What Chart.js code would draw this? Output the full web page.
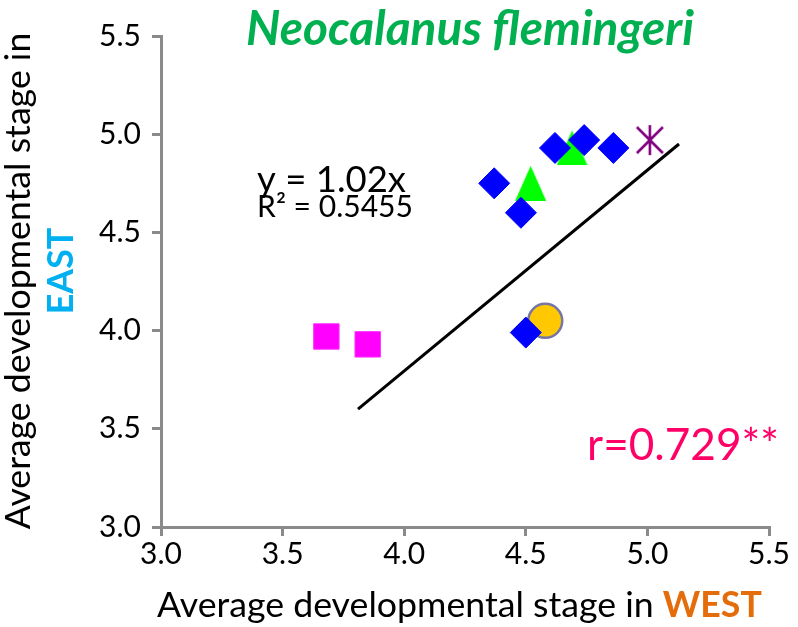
<!DOCTYPE html>
<html>
<head>
<meta charset="utf-8">
<title>Neocalanus flemingeri</title>
<script src="https://cdn.jsdelivr.net/npm/chart.js@4/dist/chart.umd.min.js"></script>
<style>
  html, body { margin: 0; padding: 0; background: #ffffff; overflow: hidden; }
  #wrap { width: 798px; height: 627px; position: relative; }
</style>
</head>
<body>
<div id="wrap"><canvas id="chart" width="798" height="627"></canvas></div>
<script>
// Average developmental stage: WEST (x) against EAST (y)
const stageTicks = [3.0, 3.5, 4.0, 4.5, 5.0, 5.5];

const diamondWest  = [4.37, 4.48, 4.62, 4.74, 4.86, 4.50];
const diamondEast  = [4.75, 4.60, 4.93, 4.97, 4.93, 3.99];
const triangleWest = [4.52, 4.69];
const triangleEast = [4.75, 4.93];
const squareWest   = [3.68, 3.85];
const squareEast   = [3.97, 3.93];
const circleWest   = [4.58];
const circleEast   = [4.05];
const starWest     = [5.01];
const starEast     = [4.97];
const trendWest    = [3.81, 5.13];
const trendEast    = [3.60, 4.95];

const titleText    = 'Neocalanus flemingeri';
const xTitleMain   = 'Average developmental stage in ';
const xTitleRegion = 'WEST';
const yTitleMain   = 'Average developmental stage in';
const yTitleRegion = 'EAST';
const equationText = 'y = 1.02x';
const r2Text       = 'R² = 0.5455';
const corrText     = 'r=0.729**';

const pairs = (xs, ys) => xs.map((x, i) => ({ x: x, y: ys[i] }));

// isosceles triangle marker
function makeTriangle(w, h, color) {
  const c = document.createElement('canvas');
  c.width = w; c.height = h;
  const g = c.getContext('2d');
  g.fillStyle = color;
  g.beginPath();
  g.moveTo(w / 2, 0);
  g.lineTo(w, h);
  g.lineTo(0, h);
  g.closePath();
  g.fill();
  return c;
}

// asterisk marker: vertical stroke plus an X
function makeAsterisk(w, h, color, lw) {
  const c = document.createElement('canvas');
  c.width = w; c.height = h;
  const g = c.getContext('2d');
  g.strokeStyle = color;
  g.lineWidth = lw;
  g.beginPath();
  g.moveTo(w / 2, 1); g.lineTo(w / 2, h - 1);
  g.moveTo(2, 3); g.lineTo(w - 2, h - 3);
  g.moveTo(w - 2, 3); g.lineTo(2, h - 3);
  g.stroke();
  return c;
}

function fitSize(ctx, text, style, family, width) {
  ctx.font = style + ' 100px ' + family;
  return 100 * width / ctx.measureText(text).width;
}

const textPlugin = {
  id: 'stageText',
  afterDraw(chart) {
    const ctx = chart.ctx;
    const xs = chart.scales.x, ys = chart.scales.y;
    ctx.save();
    ctx.textBaseline = 'alphabetic';

    // chart title
    const tSize = fitSize(ctx, titleText, 'italic bold', 'Lato', 448);
    ctx.font = 'italic bold ' + tSize + 'px Lato';
    ctx.fillStyle = '#00B050';
    ctx.textAlign = 'center';
    ctx.fillText(titleText, 470, 45);

    // axis title size: plain part plus bold region name fill 605px
    ctx.font = '100px Lato';
    const wMain = ctx.measureText(xTitleMain).width;
    ctx.font = 'bold 100px Lato';
    const wRegion = ctx.measureText(xTitleRegion).width;
    const axSize = 100 * 605 / (wMain + wRegion);

    // x axis title, two colours
    ctx.textAlign = 'left';
    ctx.font = axSize + 'px Lato';
    const mainW = ctx.measureText(xTitleMain).width;
    const xLeft = 157;
    ctx.fillStyle = '#000000';
    ctx.fillText(xTitleMain, xLeft, 617);
    ctx.font = 'bold ' + axSize + 'px Lato';
    ctx.fillStyle = '#E46C0A';
    ctx.fillText(xTitleRegion, xLeft + mainW, 617);

    // y axis title, two lines rotated
    ctx.save();
    ctx.translate(30, 281);
    ctx.rotate(-Math.PI / 2);
    ctx.textAlign = 'center';
    ctx.font = axSize + 'px Lato';
    ctx.fillStyle = '#000000';
    ctx.fillText(yTitleMain, 0, 0);
    ctx.restore();
    ctx.save();
    ctx.translate(73, 271);
    ctx.rotate(-Math.PI / 2);
    ctx.textAlign = 'center';
    ctx.font = 'bold ' + axSize + 'px Lato';
    ctx.fillStyle = '#00B0F0';
    ctx.fillText(yTitleRegion, 0, 0);
    ctx.restore();

    // regression text
    ctx.textAlign = 'left';
    ctx.fillStyle = '#000000';
    const eqSize = fitSize(ctx, equationText, '', 'Lato', 149);
    ctx.font = eqSize + 'px Lato';
    ctx.fillText(equationText, xs.getPixelForValue(3.395), ys.getPixelForValue(4.706));
    const r2Size = fitSize(ctx, r2Text, '', 'Lato', 156);
    ctx.font = r2Size + 'px Lato';
    ctx.fillText(r2Text, xs.getPixelForValue(3.395), ys.getPixelForValue(4.578));

    // correlation
    const rSize = fitSize(ctx, corrText, '', 'Lato', 192);
    ctx.font = rSize + 'px Lato';
    ctx.fillStyle = '#FF0066';
    ctx.fillText(corrText, xs.getPixelForValue(4.752), ys.getPixelForValue(3.341));

    ctx.restore();
  }
};

const axisColor = '#8A8A8A';

function buildChart() {
  Chart.defaults.font.family = 'Lato';
  Chart.defaults.color = '#000000';

  new Chart(document.getElementById('chart'), {
    type: 'scatter',
    data: {
      datasets: [
        {
          label: 'diamond',
          data: pairs(diamondWest, diamondEast),
          pointStyle: 'rectRot',
          radius: 15.5,
          backgroundColor: '#0000FF',
          borderColor: '#0000FF',
          borderWidth: 1
        },
        {
          label: 'triangle',
          data: pairs(triangleWest, triangleEast),
          pointStyle: makeTriangle(31, 35, '#00FF00'),
          radius: 16,
          backgroundColor: '#00FF00',
          borderColor: '#00FF00'
        },
        {
          label: 'square',
          data: pairs(squareWest, squareEast),
          pointStyle: 'rect',
          radius: 18,
          backgroundColor: '#FF00FF',
          borderColor: '#FF33FF',
          borderWidth: 1
        },
        {
          label: 'circle',
          data: pairs(circleWest, circleEast),
          pointStyle: 'circle',
          radius: 17,
          backgroundColor: '#FFC800',
          borderColor: '#7676A4',
          borderWidth: 2.5
        },
        {
          label: 'asterisk',
          data: pairs(starWest, starEast),
          pointStyle: makeAsterisk(30, 32, '#800080', 2.6),
          radius: 16,
          backgroundColor: '#800080',
          borderColor: '#800080'
        },
        {
          type: 'line',
          label: 'trend',
          data: pairs(trendWest, trendEast),
          showLine: true,
          borderColor: '#000000',
          borderWidth: 3,
          pointRadius: 0,
          fill: false
        }
      ]
    },
    options: {
      responsive: false,
      animation: false,
      events: [],
      layout: { padding: { left: 0, right: 29, top: 36, bottom: 0 } },
      plugins: {
        legend: { display: false },
        tooltip: { enabled: false },
        title: { display: false }
      },
      scales: {
        x: {
          type: 'linear',
          min: 3, max: 5.5,
          afterBuildTicks: s => { s.ticks = stageTicks.map(v => ({ value: v })); },
          afterFit: s => { s.height = 100; },
          ticks: {
            font: { size: 30 },
            color: '#000000',
            padding: 0,
            maxRotation: 0,
            autoSkip: false,
            callback: v => Number(v).toFixed(1)
          },
          grid: { display: true, drawOnChartArea: false, drawTicks: true, tickLength: 9, color: axisColor, lineWidth: 3 },
          border: { display: true, color: axisColor, width: 3 }
        },
        y: {
          type: 'linear',
          min: 3, max: 5.5,
          afterBuildTicks: s => { s.ticks = stageTicks.map(v => ({ value: v })); },
          afterFit: s => { s.width = 161; },
          ticks: {
            font: { size: 30 },
            color: '#000000',
            padding: 11,
            autoSkip: false,
            callback: v => Number(v).toFixed(1)
          },
          grid: { display: true, drawOnChartArea: false, drawTicks: true, tickLength: 9, color: axisColor, lineWidth: 3 },
          border: { display: true, color: axisColor, width: 3 }
        }
      }
    },
    plugins: [textPlugin]
  });
}

const fontLoads = [
  document.fonts.load('30px Lato'),
  document.fonts.load('bold 30px Lato'),
  document.fonts.load('italic bold 40px Lato')
];
Promise.race([
  Promise.all(fontLoads),
  new Promise(res => setTimeout(res, 800))
]).then(buildChart, buildChart);
</script>
</body>
</html>
